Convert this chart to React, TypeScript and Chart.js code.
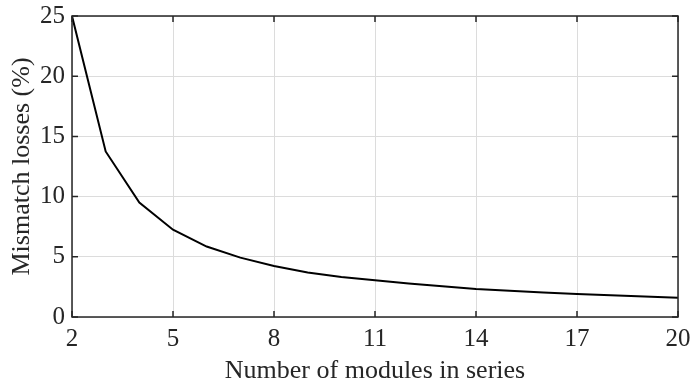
import React, { useEffect, useRef } from "react";
import { Chart, registerables } from "chart.js";

Chart.register(...registerables);

const modules = [2, 3, 4, 5, 6, 7, 8, 9, 10, 11, 12, 13, 14, 15, 16, 17, 18, 19, 20];
const losses = [25, 13.75, 9.5, 7.25, 5.85, 4.93, 4.24, 3.7, 3.33, 3.05, 2.78, 2.55, 2.32, 2.17, 2.03, 1.91, 1.8, 1.7, 1.6];
const xTicks = [2, 5, 8, 11, 14, 17, 20];
const yTicks = [0, 5, 10, 15, 20, 25];

const FONT = "'Liberation Serif', 'Times New Roman', serif";

const boxPlugin = {
  id: "box",
  afterDraw(chart: any) {
    const { ctx, chartArea } = chart;
    const { left, right, top, bottom } = chartArea;
    ctx.save();
    ctx.strokeStyle = "#262626";
    ctx.lineWidth = 1.5;
    const xs = chart.scales.x;
    const ys = chart.scales.y;
    ctx.beginPath();
    xTicks.forEach((v) => {
      const px = xs.getPixelForValue(v);
      ctx.moveTo(px, bottom);
      ctx.lineTo(px, bottom - 6);
      ctx.moveTo(px, top);
      ctx.lineTo(px, top + 6);
    });
    yTicks.forEach((v) => {
      const py = ys.getPixelForValue(v);
      ctx.moveTo(left, py);
      ctx.lineTo(left + 6, py);
      ctx.moveTo(right, py);
      ctx.lineTo(right - 6, py);
    });
    ctx.stroke();
    ctx.strokeRect(left, top, right - left, bottom - top);
    ctx.restore();
  },
};

export default function App() {
  const ref = useRef<HTMLCanvasElement>(null);
  useEffect(() => {
    document.body.style.margin = "0";
    const chart = new Chart(ref.current!, {
      type: "line",
      data: {
        datasets: [
          {
            data: modules.map((m, i) => ({ x: m, y: losses[i] })),
            borderColor: "#000000",
            borderWidth: 2,
            pointRadius: 0,
            tension: 0,
            fill: false,
          },
        ],
      },
      options: {
        animation: false,
        responsive: false,
        maintainAspectRatio: false,
        layout: { padding: { left: 0, right: 16, top: 16, bottom: 0 } },
        plugins: { legend: { display: false }, tooltip: { enabled: false } },
        scales: {
          x: {
            type: "linear",
            min: 2,
            max: 20,
            afterBuildTicks: (s: any) => {
              s.ticks = xTicks.map((v) => ({ value: v }));
            },
            afterFit: (s: any) => {
              s.height = 70;
              s.paddingLeft = 0;
              s.paddingRight = 0;
            },
            grid: { color: "#dcdcdc", lineWidth: 1, drawTicks: false },
            border: { display: false },
            ticks: {
              color: "#262626",
              font: { family: FONT, size: 25 },
              padding: 7,
              maxRotation: 0,
            },
            title: {
              display: true,
              text: "Number of modules in series",
              color: "#262626",
              font: { family: FONT, size: 26 },
              padding: { top: 0, bottom: 0 },
            },
          },
          y: {
            type: "linear",
            min: 0,
            max: 25,
            afterBuildTicks: (s: any) => {
              s.ticks = yTicks.map((v) => ({ value: v }));
            },
            afterFit: (s: any) => {
              s.width = 72;
              s.paddingTop = 0;
              s.paddingBottom = 0;
            },
            grid: { color: "#dcdcdc", lineWidth: 1, drawTicks: false },
            border: { display: false },
            ticks: {
              color: "#262626",
              font: { family: FONT, size: 25 },
              padding: 7,
            },
            title: {
              display: true,
              text: "Mismatch losses (%)",
              color: "#262626",
              font: { family: FONT, size: 26 },
              padding: { top: 7, bottom: 0 },
            },
          },
        },
      },
      plugins: [boxPlugin],
    });
    return () => chart.destroy();
  }, []);
  return (
    <div style={{ position: "absolute", left: 0, top: 0, width: 694, height: 387, background: "#fff" }}>
      <canvas ref={ref} width={694} height={387} style={{ width: 694, height: 387 }} />
    </div>
  );
}
